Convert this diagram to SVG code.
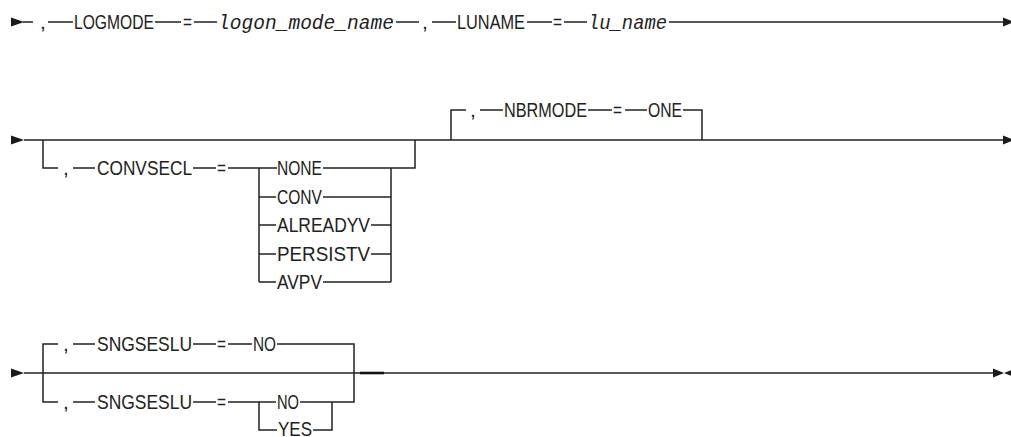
<svg xmlns="http://www.w3.org/2000/svg" width="1011" height="437" viewBox="0 0 1011 437">
<style>
.t{font-family:"Liberation Sans",Arial,sans-serif;font-size:21px;fill:#222}
.v{font-family:"Liberation Mono","DejaVu Sans Mono",monospace;font-style:italic;font-size:21px;fill:#222}
.ln{stroke:#222;stroke-width:1.5;fill:none}
.ah{fill:#1a1a1a}
</style>
<rect width="1011" height="437" fill="#fff"/>
<g id="connectors">
<path class="ln" d="M23 22H33M48 22H73M155 22H181M194 22H217M396 22H419M432 22H456M527 22H552M564 22H587M669 22H1005"/>
<path class="ln" d="M24 140H1005M43 140V168H58M73 168H95M193 168H216M228 168H277M259 168V282M259 197H276M259 225H276M259 254H276M259 282H276M323 168H415V140M323 197H391M371 225H391M371 254H391M323 282H391M391 168V282"/>
<path class="ln" d="M451 140V110H466M480 110H503M588 110H612M625 110H647M683 110H702V140"/>
<path class="ln" d="M24 373H995M58 344H43V402H58M73 344H95M193 344H216M228 344H252M277 344H354V402H332M73 402H95M193 402H216M228 402H276M259 402V430H277M300 402H332V430H313"/>
<path d="M360 373H384" stroke="#111" stroke-width="2.6"/>
<polygon class="ah" points="11,17.5 24,22 11,26.5"/>
<polygon class="ah" points="1003,17.5 1014,22 1003,26.5"/>
<polygon class="ah" points="11,135.5 24,140 11,144.5"/>
<polygon class="ah" points="1003,135.5 1014,140 1003,144.5"/>
<polygon class="ah" points="11,368.5 24,373 11,377.5"/>
<polygon class="ah" points="993,368.5 1004,373 993,377.5"/>
<polygon class="ah" points="1015,368.5 1004,373 1015,377.5"/>
</g>
<g id="row1">
<g id="n-comma1"><text class="t" x="40" y="29">,</text></g>
<g id="n-logmode"><text class="t" x="74" y="29" textLength="80" lengthAdjust="spacingAndGlyphs">LOGMODE</text></g>
<g id="n-eq1"><text class="t" x="183" y="29" textLength="9" lengthAdjust="spacingAndGlyphs">=</text></g>
<g id="n-logon"><text class="v" x="218" y="29" textLength="176" lengthAdjust="spacingAndGlyphs">logon_mode_name</text></g>
<g id="n-comma2"><text class="t" x="422" y="29">,</text></g>
<g id="n-luname"><text class="t" x="457" y="29" textLength="68" lengthAdjust="spacingAndGlyphs">LUNAME</text></g>
<g id="n-eq2"><text class="t" x="553" y="29" textLength="9" lengthAdjust="spacingAndGlyphs">=</text></g>
<g id="n-lu"><text class="v" x="588" y="29" textLength="79" lengthAdjust="spacingAndGlyphs">lu_name</text></g>
</g>
<g id="row2">
<g id="n-comma3"><text class="t" x="63" y="175">,</text></g>
<g id="n-convsecl"><text class="t" x="97" y="175" textLength="95" lengthAdjust="spacingAndGlyphs">CONVSECL</text></g>
<g id="n-eq3"><text class="t" x="217" y="175" textLength="9" lengthAdjust="spacingAndGlyphs">=</text></g>
<g id="n-none"><text class="t" x="277" y="175" textLength="45" lengthAdjust="spacingAndGlyphs">NONE</text></g>
<g id="n-conv"><text class="t" x="277" y="204" textLength="45" lengthAdjust="spacingAndGlyphs">CONV</text></g>
<g id="n-alreadyv"><text class="t" x="277" y="232" textLength="93" lengthAdjust="spacingAndGlyphs">ALREADYV</text></g>
<g id="n-persistv"><text class="t" x="277" y="261" textLength="93" lengthAdjust="spacingAndGlyphs">PERSISTV</text></g>
<g id="n-avpv"><text class="t" x="277" y="289" textLength="45" lengthAdjust="spacingAndGlyphs">AVPV</text></g>
<g id="n-comma4"><text class="t" x="470" y="117">,</text></g>
<g id="n-nbrmode"><text class="t" x="504" y="117" textLength="83" lengthAdjust="spacingAndGlyphs">NBRMODE</text></g>
<g id="n-eq4"><text class="t" x="613" y="117" textLength="9" lengthAdjust="spacingAndGlyphs">=</text></g>
<g id="n-one"><text class="t" x="648" y="117" textLength="34" lengthAdjust="spacingAndGlyphs">ONE</text></g>
</g>
<g id="row3">
<g id="n-comma5"><text class="t" x="63" y="351">,</text></g>
<g id="n-sng1"><text class="t" x="97" y="351" textLength="95" lengthAdjust="spacingAndGlyphs">SNGSESLU</text></g>
<g id="n-eq5"><text class="t" x="217" y="351" textLength="9" lengthAdjust="spacingAndGlyphs">=</text></g>
<g id="n-no1"><text class="t" x="253" y="351" textLength="23" lengthAdjust="spacingAndGlyphs">NO</text></g>
<g id="n-comma6"><text class="t" x="63" y="409">,</text></g>
<g id="n-sng2"><text class="t" x="97" y="409" textLength="95" lengthAdjust="spacingAndGlyphs">SNGSESLU</text></g>
<g id="n-eq6"><text class="t" x="217" y="409" textLength="9" lengthAdjust="spacingAndGlyphs">=</text></g>
<g id="n-no2"><text class="t" x="277" y="409" textLength="22" lengthAdjust="spacingAndGlyphs">NO</text></g>
<g id="n-yes"><text class="t" x="278" y="436" textLength="34" lengthAdjust="spacingAndGlyphs">YES</text></g>
</g>
</svg>
